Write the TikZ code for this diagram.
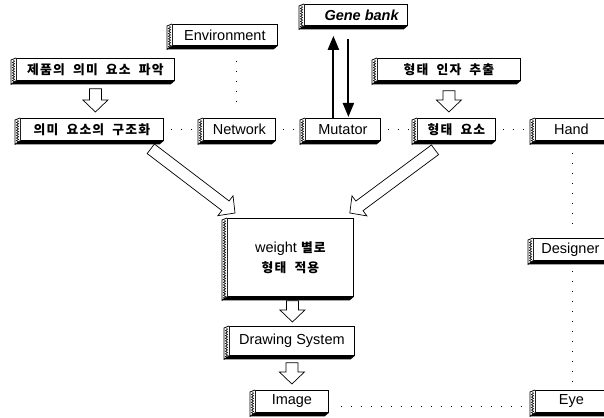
\documentclass[tikz,border=0pt]{standalone}
\usepackage{fontspec}
\setmainfont{Liberation Sans}
\newfontfamily\kr{Noto Sans CJK KR}
\usetikzlibrary{calc,decorations.pathmorphing,arrows.meta}
\def\krsp#1{\ifx#1\relax\else\ifx#1~\hspace{7pt}\else#1\hspace{1.2pt}\fi\expandafter\krsp\fi}
\newcommand\kt[1]{{\kr\bfseries\fontsize{12.8}{16}\selectfont\krsp#1\relax\unskip}}
\newcommand\deco[1]{%
  \fill[black] (#1.south west) -- (#1.south east) -- ($(#1.south east)+(-4,3.5)$) -- ($(#1.south west)+(-5,3.5)$) -- cycle;
  \draw[fill=white, line width=0.8pt] (#1.north west) -- ($(#1.north west)+(-5,2)$) -- ($(#1.south west)+(-5,3.5)$) -- (#1.south west);
  \draw[line width=0.6pt, decorate, decoration={zigzag, segment length=2.6pt, amplitude=1.1pt}] ($(#1.north west)+(-2.5,2.5)$) -- ($(#1.south west)+(-2.5,2)$);
}
\newcommand\harrow[2]{%
  \coordinate (hA) at #1; \coordinate (hB) at #2;
  \coordinate (hC) at ($(hB)!12pt!(hA)$);
  \draw[fill=white, line width=0.7pt] ($(hA)!6pt!90:(hB)$) -- ($(hC)!6pt!-90:(hA)$) -- ($(hC)!12.5pt!-90:(hA)$) -- (hB) -- ($(hC)!12.5pt!90:(hA)$) -- ($(hC)!6pt!90:(hA)$) -- ($(hA)!6pt!-90:(hB)$) -- cycle;
}
\tikzset{
  bx/.style={draw, fill=white, line width=0.8pt, inner sep=0pt, anchor=north west,
    font=\fontsize{14.5}{16}\selectfont},
  dots/.style={line width=1.4pt, dash pattern=on 1.4pt off 8.6pt},
  thick arrow/.style={line width=2pt, -{Triangle[length=14pt,width=11pt]}}
}
\begin{document}
\begin{tikzpicture}[x=1pt,y=-1pt]
\useasboundingbox (0,0) rectangle (604,417);
\node[bx, minimum width=105, minimum height=21] (env) at (172,24) {Environment};
\node[bx, minimum width=158, minimum height=22] (prod) at (16,58) {\kt{제품의~의미~요소~파악}};
\node[bx, minimum width=143, minimum height=22] (struc) at (20,118) {\kt{의미~요소의~구조화}};
\node[bx, minimum width=72, minimum height=22] (net) at (203,118) {Network};
\node[bx, minimum width=103, minimum height=21, text depth=0pt] (gene) at (304,4) {\hspace{12pt}\textbf{\textit{Gene bank}}};
\node[bx, minimum width=143, minimum height=22] (form) at (377,58) {\kt{형태~인자~추출}};
\node[bx, minimum width=75, minimum height=22] (mut) at (305,118) {Mutator};
\node[bx, minimum width=78, minimum height=22] (elem) at (417,118) {\kt{형태~요소}};
\node[bx, minimum width=72, minimum height=22] (hand) at (535,118) {Hand};
\node[bx, minimum width=126, minimum height=78, align=center] (wt) at (227,218) {weight \kt{별로}\\[4pt]\kt{형태~적용}};
\node[bx, minimum width=74, minimum height=22] (des) at (533,238) {Designer};
\node[bx, minimum width=125, minimum height=29] (drw) at (229,326) {Drawing System};
\node[bx, minimum width=73, minimum height=22] (img) at (255,390) {Image};
\node[bx, minimum width=72, minimum height=22] (eye) at (535,390) {Eye};
\foreach \n in {env,prod,struc,net,gene,form,mut,elem,hand,wt,des,drw,img,eye} {\deco{\n}}
% hollow arrows
\harrow{($(prod.south)+(0,8)$)}{($(prod.south |- struc.north)+(0,-6)$)}
\harrow{($(form.south)+(0,10)$)}{($(form.south |- elem.north)+(0,-6)$)}
\harrow{($(wt.south)+(2,4)$)}{($(wt.south |- drw.north)+(2,-4)$)}
\harrow{($(drw.south)+(0,7)$)}{($(drw.south |- img.north)+(0,-6)$)}
\harrow{($(struc.south east)+(-13,8)$)}{($(wt.north west)+(8,-5)$)}
\harrow{($(elem.south west)+(18,9)$)}{($(wt.north east)+(-4,-5)$)}
% gene bank <-> mutator
\draw[thick arrow] ($(mut.north)+(-9.5,0)$) -- ($(mut.north |- gene.south)+(-9.5,10)$);
\draw[thick arrow] ($(mut.north |- gene.south)+(5.5,13)$) -- ($(mut.north)+(5.5,-1)$);
% dotted links
\draw[dots] ($(struc.east)+(7,0)$) -- ($(net.west)+(-4,0)$);
\draw[dots] ($(net.east)+(7,0)$) -- ($(mut.west)+(-4,0)$);
\draw[dots] ($(mut.east)+(7,0)$) -- ($(elem.west)+(-4,0)$);
\draw[dots] ($(elem.east)+(7,0)$) -- ($(hand.west)+(-4,0)$);
\draw[dots] ($(net.north |- env.south)+(-3,15)$) -- ($(net.north)+(-3,-8)$);
\draw[dots] ($(hand.south)+(1,12)$) -- ($(hand.south |- des.north)+(1,-6)$);
\draw[dots] ($(des.south)+(2,10)$) -- ($(des.south |- eye.north)+(2,-6)$);
\draw[dots] ($(img.east)+(12,5)$) -- ($(eye.west)+(-8,5)$);
\end{tikzpicture}
\end{document}
